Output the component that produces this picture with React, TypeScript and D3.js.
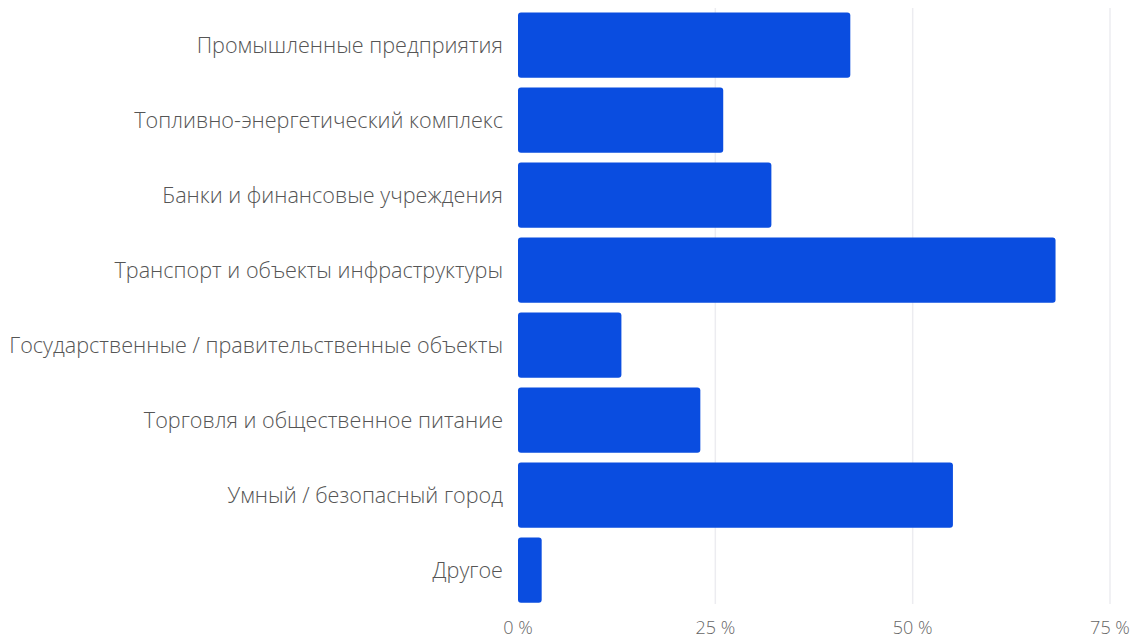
import React from "react";
import * as d3 from "d3";

const categories = [
  "Промышленные предприятия",
  "Топливно-энергетический комплекс",
  "Банки и финансовые учреждения",
  "Транспорт и объекты инфраструктуры",
  "Государственные / правительственные объекты",
  "Торговля и общественное питание",
  "Умный / безопасный город",
  "Другое",
];
const values = [42.1, 26.0, 32.1, 68.1, 13.1, 23.1, 55.1, 3.0];
const ticks = [0, 25, 50, 75];

const W = 1137;
const H = 639;
const left = 518;
const right = 1110;
const top = 7.5;
const bottom = 607.5;

export default function App() {
  const x = d3.scaleLinear().domain([0, 75]).range([left, right]);
  const y = d3.scaleBand<string>().domain(categories).range([top, bottom]).paddingInner(0.13).paddingOuter(0.065);
  return (
    <svg width={W} height={H} style={{ position: "absolute", left: 0, top: 0, background: "#fff" }}
      fontFamily="'Open Sans', 'Noto Sans', sans-serif">
      {ticks.filter(t => t > 0).map(t => (
        <line key={t} x1={x(t)} x2={x(t)} y1={8} y2={604} stroke="#ececf0" strokeWidth={1.5} />
      ))}
      {categories.map((c, i) => (
        <g key={c}>
          <rect x={x(0)} y={y(c)} width={x(values[i]) - x(0)} height={y.bandwidth()} rx={3} fill="#0a4de0" />
          <text x={503} y={(y(c) as number) + y.bandwidth() / 2} dy="0.35em" textAnchor="end" fontSize={21.6} fontWeight={300} fill="#555">{c}</text>
        </g>
      ))}
      {ticks.map(t => (
        <text key={t} x={x(t)} y={634} textAnchor="middle" fontSize={18} fontWeight={300} fill="#666">{t} %</text>
      ))}
    </svg>
  );
}
